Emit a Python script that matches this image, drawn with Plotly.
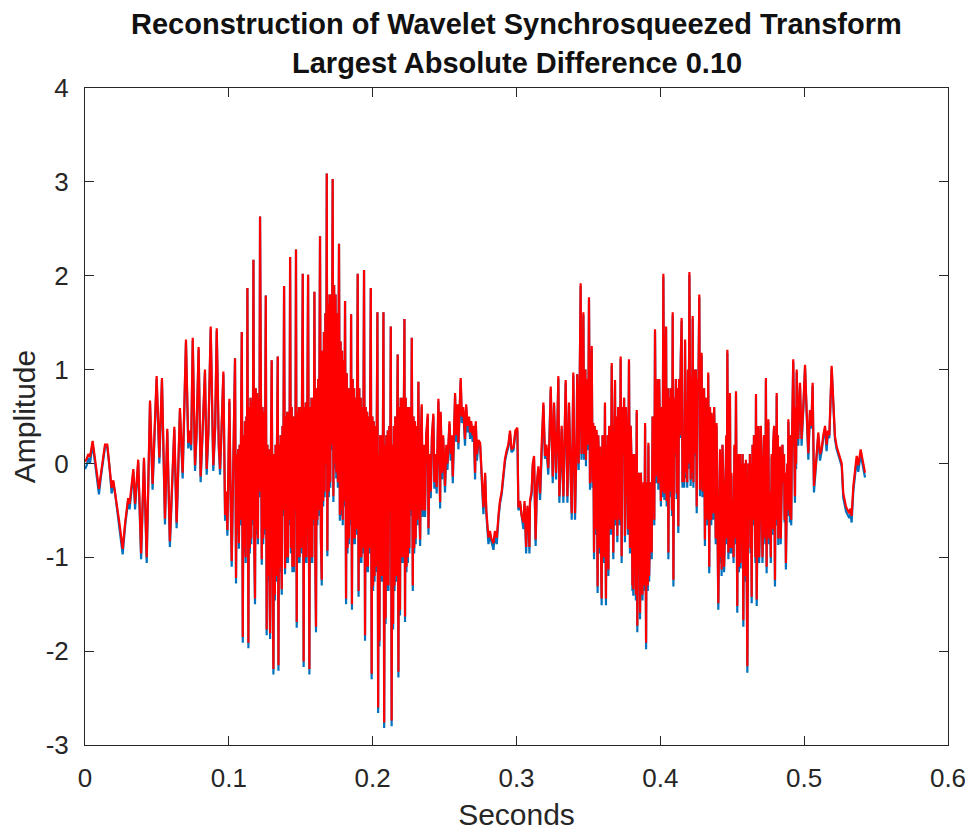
import plotly.graph_objects as go

# ---------------- data (times in milliseconds, amplitudes) ----------------
seg_a_t = [0.0, 1.2, 2.3, 3.5, 5.3, 6.5, 8.1, 9.7, 11.0, 12.5, 13.9, 15.5, 17.0, 18.5, 19.7, 21.0, 22.0, 23.8,
           25.5, 26.2, 28.0, 30.0, 31.0, 33.6, 34.8, 37.0, 39.0, 41.0, 42.9, 45.2, 47.0, 49.8, 51.7, 53.5, 55.6,
           57.2, 59.0, 62.1, 63.7, 66.0, 67.9, 70.2, 71.8, 72.8, 73.8, 74.9, 76.5, 77.5, 79.0, 80.4, 81.5, 83.4,
           84.6, 85.8, 87.4, 89.2, 90.5, 91.6, 93.0, 93.9, 95.0, 96.2, 97.4, 98.2, 99.0, 100.4, 101.2, 102.0, 103.2]
seg_a_recon = [0.02, 0.05, 0.10, 0.07, 0.24, 0.10, -0.14, -0.27, -0.12, 0.08, 0.20, 0.20, 0.00, -0.26, -0.18,
               -0.30, -0.43, -0.62, -0.87, -0.91, -0.62, -0.37, -0.43, -0.06, -0.43, 0.04, -0.96, 0.06, -1.00,
               0.67, -0.22, 0.93, 0.06, 0.91, -0.59, 0.37, -0.83, 0.39, -0.63, 0.59, -0.10, 1.32, 0.22, 0.35,
               0.20, 1.34, -0.02, 0.30, 1.24, -0.14, 0.25, 1.00, -0.06, 0.35, 1.46, -0.02, 0.40, 1.44, 0.20,
               -0.06, 0.40, 0.98, -0.55, -0.30, -0.71, 0.69, -0.30, -1.04, 0.10]
seg_a_orig = [-0.06, -0.02, 0.06, 0.00, 0.21, 0.07, -0.17, -0.33, -0.15, 0.05, 0.17, 0.17, -0.03, -0.32, -0.21,
              -0.33, -0.46, -0.65, -0.90, -0.97, -0.65, -0.40, -0.49, -0.09, -0.49, 0.01, -1.02, 0.03, -1.06,
              0.64, -0.28, 0.90, 0.00, 0.88, -0.65, 0.34, -0.89, 0.36, -0.69, 0.56, -0.16, 1.29, 0.16, 0.32,
              0.14, 1.31, -0.08, 0.27, 1.21, -0.20, 0.22, 0.97, -0.12, 0.32, 1.43, -0.08, 0.37, 1.41, 0.17,
              -0.12, 0.37, 0.95, -0.61, -0.33, -0.77, 0.66, -0.33, -1.10, 0.07]

# dense voiced part, one line per pitch period
seg_b_t = [104.3, 105.0, 105.5, 106.0, 106.5, 107.0, 107.5, 108.0, 108.5,
           109.0, 109.7, 110.2, 110.7, 111.2, 111.7, 112.2, 112.6,
           112.9, 113.6, 114.1, 114.6, 115.1, 115.6, 116.1, 116.6,
           117.1, 117.7, 118.2, 118.7, 119.2, 119.7, 120.2, 120.7, 121.2,
           121.7, 122.3, 122.9, 123.4, 123.9, 124.4, 124.9, 125.3,
           125.7, 126.3, 126.8, 127.3, 127.8, 128.3, 128.7, 129.2,
           129.8, 130.4, 131.0, 131.5, 132.0, 132.5, 133.0, 133.5,
           134.0, 134.5, 135.0, 135.5, 136.0, 136.5, 136.8, 137.3, 137.8,
           138.4, 139.1, 139.6, 140.1, 140.6, 141.1, 141.6, 142.1,
           142.6, 143.2, 143.7, 144.2, 144.7, 145.2, 145.7, 146.2,
           146.7, 147.2, 147.7, 148.2, 148.7, 149.2, 149.7, 150.2, 150.8,
           151.4, 152.0, 152.5, 153.0, 153.5, 154.0, 154.5,
           155.1, 156.0, 156.5, 157.0, 157.5, 158.0, 158.5, 159.0,
           159.5, 160.1, 160.6, 161.1, 161.6, 162.1, 162.6, 163.0,
           163.4, 164.0, 164.6, 165.1, 165.6, 166.1, 166.6, 167.1, 167.6,
           168.1, 168.5, 169.0, 169.5, 170.0, 170.5, 171.0, 171.5,
           172.2, 172.7, 173.2, 173.7, 174.2, 174.7, 175.2, 175.8,
           176.6, 177.2, 177.7, 178.2, 178.7, 179.2, 179.7, 180.2,
           180.8, 181.5, 182.0, 182.5, 183.0, 183.5, 184.0, 184.5,
           185.0, 185.6, 186.1, 186.6, 187.1, 187.6, 188.1, 188.6, 189.1,
           189.6, 190.2, 190.7, 191.2, 191.7, 192.2, 192.7, 193.2, 193.6,
           194.0, 194.7, 195.2, 195.7, 196.2, 196.7, 197.2, 197.7, 198.2,
           198.7, 199.3, 199.8, 200.3, 200.8, 201.3, 201.8, 202.3, 202.8,
           203.3, 203.8, 204.3, 204.7, 205.2, 205.7, 206.2, 206.7, 207.1,
           207.5, 208.0, 208.5, 209.0, 209.5, 210.0, 210.5, 211.0, 211.6, 212.1,
           212.6, 213.2, 213.7, 214.2, 214.7, 215.2, 215.7, 216.2, 216.8,
           217.4, 217.9, 218.4, 219.0, 219.5, 220.0, 220.5, 221.0, 221.5,
           222.1, 222.5, 223.0, 223.5, 224.0, 224.5, 225.0, 225.5, 226.0, 226.6,
           227.2, 227.9, 228.4, 228.9, 229.4, 229.9, 230.4, 231.0,
           231.8]
seg_b_recon = [1.12, -1.22, 0.10, -0.70, 0.15, -0.85, 0.20, -0.60, 0.10,
               1.40, -1.85, 0.30, -0.90, 0.45, -1.00, 0.50, -0.40,
               1.87, -1.91, 0.60, -0.90, 0.70, -0.80, 0.65, -0.60,
               2.17, -0.90, -1.44, 0.80, -0.70, 0.75, -0.80, 0.70, -0.30,
               2.63, -0.60, -1.02, 0.60, -0.80, 0.55, -0.70, 0.50,
               1.79, -1.77, 0.20, -1.20, 0.15, -1.30, -1.81, 0.00,
               1.10, -1.00, -2.19, 0.10, -1.40, 0.20, -1.20, 0.25,
               1.14, -2.15, 0.20, -1.10, 0.30, -1.00, -1.34, 0.40, -0.50,
               1.89, -1.12, 0.50, -1.00, 0.55, -1.00, 0.55, -0.60,
               2.20, -0.90, 0.60, -1.10, 0.50, -1.10, 0.50, -0.50,
               2.28, -1.69, 0.55, -1.00, 0.60, -1.00, 0.60, -0.90, 0.50,
               2.02, -2.11, 0.60, -1.00, 0.65, -1.00, 0.60,
               2.01, -2.19, 0.60, -1.00, 0.70, -1.00, 0.70, -0.60,
               1.83, -1.00, -1.74, 0.80, -0.60, 0.90, -0.50, 1.00,
               2.42, -0.80, -1.24, 1.20, -0.40, 1.40, -0.30, 1.60, 0.00,
               3.09, -0.93, 1.70, -0.30, 1.80, -0.20, 1.80, 0.20,
               3.03, -0.35, 1.90, 0.00, 1.80, -0.10, 1.60, -0.20,
               2.34, -0.55, 1.30, -0.50, 1.20, -0.60, 1.10, -0.40,
               1.73, -1.44, 0.96, -0.90, 0.80, -0.80, 0.80, -0.60,
               1.59, -1.50, 0.90, -0.80, 0.80, -0.80, 0.70, -0.70, 0.50,
               2.02, -1.36, 0.80, -1.00, 0.70, -1.00, 0.60, -0.90, 0.40,
               2.06, -1.83, 0.60, -1.10, 0.55, -1.10, 0.50, -0.90, 0.30,
               1.87, -2.24, 0.50, -1.30, 0.45, -1.20, 0.40, -1.10, 0.30,
               1.61, -2.60, 0.10, -1.89, 0.30, -1.20, 0.30, -1.20, 0.30,
               1.61, -2.76, 0.20, -1.65, 0.30, -1.30, 0.35, -1.30, 0.40, -0.50,
               1.46, -2.74, 0.20, -1.71, 0.40, -1.30, 0.50, -1.20, 0.40,
               1.16, -2.22, 0.60, -1.56, 0.70, -1.00, 0.70, -1.00, 0.70,
               1.54, -1.63, 0.70, -1.10, 0.60, -1.00, 0.60, -0.90, 0.60, -0.50,
               1.34, -1.30, 0.50, -0.90, 0.45, -0.80, 0.40, -0.60,
               0.87]
seg_b_orig = [1.12, -1.28, 0.10, -0.76, 0.15, -0.91, 0.20, -0.66, 0.10,
              1.40, -1.91, 0.30, -0.96, 0.45, -1.06, 0.50, -0.46,
              1.87, -1.97, 0.60, -0.96, 0.70, -0.86, 0.65, -0.66,
              2.17, -0.90, -1.50, 0.80, -0.76, 0.75, -0.86, 0.70, -0.36,
              2.63, -0.60, -1.08, 0.60, -0.86, 0.55, -0.76, 0.50,
              1.79, -1.83, 0.20, -1.26, 0.15, -1.30, -1.87, 0.00,
              1.10, -1.00, -2.25, 0.10, -1.46, 0.20, -1.26, 0.25,
              1.14, -2.21, 0.20, -1.16, 0.30, -1.00, -1.40, 0.40, -0.56,
              1.89, -1.18, 0.50, -1.06, 0.55, -1.06, 0.55, -0.66,
              2.20, -0.96, 0.60, -1.16, 0.50, -1.16, 0.50, -0.56,
              2.28, -1.75, 0.55, -1.06, 0.60, -1.06, 0.60, -0.96, 0.50,
              2.02, -2.17, 0.60, -1.06, 0.65, -1.06, 0.60,
              2.01, -2.25, 0.60, -1.06, 0.70, -1.06, 0.70, -0.66,
              1.83, -1.00, -1.80, 0.80, -0.66, 0.90, -0.56, 1.00,
              2.42, -0.80, -1.30, 1.20, -0.46, 1.40, -0.36, 1.60, -0.06,
              3.09, -0.99, 1.70, -0.36, 1.80, -0.26, 1.80, 0.14,
              3.03, -0.41, 1.90, -0.06, 1.80, -0.16, 1.60, -0.26,
              2.34, -0.61, 1.30, -0.56, 1.20, -0.66, 1.10, -0.46,
              1.73, -1.50, 0.96, -0.96, 0.80, -0.86, 0.80, -0.66,
              1.59, -1.56, 0.90, -0.86, 0.80, -0.86, 0.70, -0.76, 0.50,
              2.02, -1.42, 0.80, -1.06, 0.70, -1.06, 0.60, -0.96, 0.40,
              2.06, -1.89, 0.60, -1.16, 0.55, -1.16, 0.50, -0.96, 0.30,
              1.87, -2.30, 0.50, -1.36, 0.45, -1.26, 0.40, -1.16, 0.30,
              1.61, -2.66, 0.10, -1.95, 0.30, -1.26, 0.30, -1.26, 0.30,
              1.61, -2.82, 0.20, -1.71, 0.30, -1.36, 0.35, -1.36, 0.40, -0.56,
              1.46, -2.80, 0.20, -1.77, 0.40, -1.36, 0.50, -1.26, 0.40,
              1.16, -2.28, 0.60, -1.62, 0.70, -1.06, 0.70, -1.06, 0.70,
              1.54, -1.69, 0.70, -1.16, 0.60, -1.06, 0.60, -0.96, 0.60, -0.56,
              1.34, -1.36, 0.50, -0.96, 0.45, -0.86, 0.40, -0.66,
              0.87]

# decaying part and the quiet stretch around 0.28-0.34 s
seg_c_t = [232.4, 233.0, 233.6, 234.1, 234.8, 235.6, 236.4, 237.2, 238.3, 238.8, 239.6, 240.4, 241.2, 242.2,
           242.9, 243.7, 244.5, 245.7, 246.9, 247.3, 248.2, 249.0, 250.3, 251.2, 252.0, 253.4, 254.3, 255.0,
           255.7, 257.3, 258.0, 259.0, 259.6, 260.4, 261.2, 262.0, 263.0, 264.2, 265.0, 266.0, 267.0, 267.7,
           268.5, 269.5, 270.3, 271.2, 271.7, 272.5, 273.5, 274.7, 275.5, 276.2, 277.0, 278.2, 279.0, 280.5,
           281.5, 282.5, 284.0, 285.0, 286.3, 287.5, 288.5, 289.7, 290.8, 292.0, 293.2, 294.3, 295.5, 296.5,
           297.9, 299.2, 300.6, 301.3, 302.5, 303.5, 304.8, 305.6, 306.7, 307.6, 308.4, 309.0, 309.4, 310.5,
           311.3, 312.2, 313.3, 314.2, 315.2, 316.4, 317.5, 318.7, 319.8, 320.8, 322.1, 323.0, 323.8, 325.2,
           326.1, 327.5, 328.3, 329.1, 329.8, 330.6, 331.4, 332.6, 333.4, 334.2, 335.4, 336.5, 337.5, 338.4,
           339.5, 340.7]
seg_c_recon = [-0.40, -0.81, 0.30, 0.63, -0.50, 0.20, -0.50, 0.30, 0.53, -0.69, 0.10, -0.30, 0.30, 0.53,
               -0.20, 0.10, -0.25, 0.69, -0.41, 0.55, -0.10, 0.30, -0.24, 0.20, 0.00, 0.45, 0.10, 0.30,
               -0.14, 0.75, 0.30, 0.63, 0.22, 0.50, 0.91, 0.50, 0.60, 0.26, 0.63, 0.40, 0.50, 0.33,
               0.45, 0.30, 0.40, -0.10, 0.45, 0.10, 0.25, 0.22, -0.05, -0.20, -0.47, -0.10, -0.50, -0.79,
               -0.72, -0.80, -0.85, -0.72, -0.79, -0.55, -0.40, -0.30, -0.10, 0.05, 0.14, 0.20, 0.35, 0.15,
               0.17, 0.35, 0.38, -0.47, -0.40, -0.55, -0.63, -0.40, -0.89, -0.45, -0.60, -0.89, -0.39, -0.30,
               0.00, 0.08, -0.81, -0.20, -0.03, -0.32, 0.20, 0.65, 0.08, 0.20, -0.05, 0.30, 0.82, -0.14,
               0.65, -0.10, 0.30, 0.93, -0.35, 0.10, 0.40, -0.35, 0.30, 0.89, -0.35, 0.65, 0.00, -0.53,
               0.97, -0.53]
seg_c_orig = [-0.43, -0.88, 0.27, 0.60, -0.57, 0.17, -0.57, 0.27, 0.50, -0.76, 0.07, -0.37, 0.27, 0.50,
              -0.27, 0.07, -0.32, 0.66, -0.48, 0.52, -0.17, 0.27, -0.31, 0.17, -0.07, 0.42, 0.03, 0.27,
              -0.21, 0.72, 0.23, 0.60, 0.15, 0.47, 0.88, 0.43, 0.57, 0.19, 0.60, 0.33, 0.47, 0.26,
              0.42, 0.23, 0.37, -0.17, 0.42, 0.03, 0.22, 0.19, -0.08, -0.23, -0.54, -0.13, -0.53, -0.86,
              -0.75, -0.83, -0.92, -0.75, -0.86, -0.58, -0.43, -0.33, -0.13, 0.02, 0.11, 0.17, 0.32, 0.12,
              0.14, 0.32, 0.35, -0.50, -0.43, -0.58, -0.70, -0.43, -0.96, -0.48, -0.63, -0.96, -0.42, -0.33,
              -0.03, 0.05, -0.88, -0.23, -0.06, -0.39, 0.17, 0.62, 0.05, 0.17, -0.12, 0.27, 0.79, -0.21,
              0.62, -0.17, 0.27, 0.90, -0.42, 0.07, 0.37, -0.42, 0.27, 0.86, -0.42, 0.62, -0.03, -0.60,
              0.94, -0.60]

# second voiced part
seg_d_t = [341.8, 342.2, 342.6, 343.2, 343.9, 344.6, 345.2, 345.8, 346.5, 347.0,
           347.4, 347.9, 348.3, 348.8, 349.3, 349.8, 350.4, 351.1, 351.7, 352.3,
           352.9, 353.4, 353.9, 354.4, 354.7, 355.0, 355.7, 356.4, 356.8, 357.2,
           357.6, 358.1, 358.6, 359.2, 359.8, 360.3, 360.9, 361.5, 362.2, 362.6,
           363.0, 363.4, 363.9, 364.4, 365.0, 365.6, 366.2, 367.3, 367.9, 368.5,
           368.9, 369.3, 369.7, 370.1, 370.7, 371.3, 371.8, 372.4, 373.1, 373.6,
           374.2, 374.8, 375.4, 376.1, 376.8, 377.5, 378.2, 378.9, 379.4, 380.0,
           380.6, 380.9, 381.2, 381.8, 382.4, 383.0, 383.6, 384.0, 384.5, 385.0,
           385.5, 385.9, 386.5, 387.0, 387.6, 388.2, 388.8, 389.4, 390.1, 390.5,
           390.9, 391.3, 391.7, 392.2, 392.8, 393.4, 394.0, 394.6, 395.2, 395.8,
           396.3, 397.0, 397.4, 397.8, 398.2, 398.6, 399.2, 399.8, 400.4, 401.0,
           401.6, 402.1, 402.8, 403.4, 404.0, 404.4, 404.8, 405.2, 405.6, 406.1,
           406.6, 407.1, 407.6, 408.1, 408.6, 409.1, 409.6, 410.2, 410.8, 411.4,
           411.9, 412.5, 413.0, 413.6, 414.2, 414.8, 415.4, 416.0, 416.6, 417.2,
           417.7, 418.3, 418.7, 419.2, 419.7, 420.2, 421.1, 421.5, 422.0, 422.5,
           423.0, 423.5, 424.1, 424.7, 425.3, 425.8, 426.4, 427.1, 427.6, 428.1,
           428.7, 429.3, 429.9, 430.4, 431.0, 431.6, 432.2, 432.7, 433.3, 434.0,
           434.5, 435.0, 435.4, 435.7, 436.8, 437.4, 438.0, 438.5, 439.1, 440.3,
           441.5, 442.0, 442.3, 442.6, 443.2, 443.8, 444.3, 444.9, 445.8, 446.2,
           446.6, 447.3, 447.8, 448.4, 448.9, 449.4, 449.9, 450.3, 450.9, 451.5,
           452.0, 452.6, 453.5, 453.9, 454.2, 454.6, 454.9, 455.4, 455.8, 456.3,
           456.8, 457.2, 457.7, 458.2, 458.6, 459.1, 459.5, 460.5, 461.2, 461.9,
           462.3, 462.7, 463.1, 463.5, 464.1, 464.6, 465.1, 465.6, 466.1, 466.5,
           467.0, 468.1, 468.7, 469.3, 469.8, 470.4, 471.0, 471.6, 472.1, 472.6,
           473.0, 473.4, 473.9, 474.3, 474.7, 475.1, 475.6, 476.2, 476.8, 477.4,
           477.9, 478.5, 479.1, 479.7, 480.2, 480.5, 480.9, 481.4, 481.7, 482.0,
           482.5, 482.8, 483.2, 483.7, 484.3, 484.9, 485.5, 486.0, 486.4, 486.9,
           487.3, 488.2, 488.6, 489.0, 490.1, 490.7, 491.0, 491.3, 492.4, 493.6,
           494.0, 494.4, 494.8, 495.9, 497.1, 498.2, 499.4]
seg_d_recon = [0.26, 0.95, 0.60, 0.00, 0.80, 1.92, 0.10, 0.33, 1.61, 0.10,
               0.40, 1.00, 0.04, 0.90, 0.80, 0.20, 1.77, -0.21, 0.90, 1.25,
               -0.20, 0.43, -0.95, 0.40, -0.70, 0.20, 0.36, -1.31, 0.30, 0.10,
               -0.90, 0.18, -0.80, -1.44, 0.30, -0.20, -1.00, 0.65, -1.44, 0.20,
               -0.50, 0.30, -1.13, 0.40, 0.20, -0.70, 1.07, -0.95, 0.50, 0.89,
               -0.60, -0.30, 0.50, -0.77, 0.60, 0.40, -0.60, 1.14, -0.99, 0.60,
               0.10, 0.70, -0.77, 0.60, 0.20, -0.70, 1.11, -0.90, 0.40, 0.00,
               -1.30, 0.10, -1.34, 0.10, -0.20, -1.40, 0.57, -1.73, -0.10, -0.60,
               -0.10, -1.59, -0.10, -0.80, -1.40, -0.20, -1.30, 0.43, -1.91, -0.20,
               -0.30, -1.30, 0.22, -1.20, -0.84, -0.20, -0.95, 0.50, 0.20, -0.60,
               1.43, -0.14, 0.80, 0.30, 0.90, -0.21, 0.90, 0.40, -0.40, 0.60,
               -0.30, 2.02, -0.32, 0.90, 1.46, -0.40, 0.00, 0.80, -0.95, 0.70,
               -0.30, 0.80, 0.40, -0.50, 1.61, -1.24, 0.70, 0.10, 0.90, -0.32,
               0.80, -0.67, 0.90, 0.30, 1.10, 1.55, -0.20, 0.18, -0.20, 1.32,
               -0.10, 0.65, -0.20, 1.00, 0.00, 2.04, -0.17, 0.90, -0.10, 1.57,
               -0.20, 1.00, 0.11, 1.00, -0.46, 0.90, 0.75, 1.80, -0.28, 0.90,
               1.18, -0.30, 0.08, 0.80, -0.81, 0.70, 0.30, -0.60, 0.97, -1.10,
               0.60, 0.20, -0.60, 0.54, -0.53, 0.60, 0.10, -0.80, 0.43, -1.49,
               0.15, -1.00, 0.10, -1.13, 0.20, -0.20, -1.10, -0.71, 0.30, -0.80,
               1.21, -0.95, 0.30, 0.75, -0.90, -0.10, -0.90, -0.39, -1.00, 0.20,
               -0.80, 0.77, -1.52, 0.10, -0.30, -1.10, -0.39, 0.10, -1.06, 0.00,
               -0.50, 0.10, -1.67, 0.00, -0.80, -1.20, 0.04, -2.16, 0.00, -0.56,
               0.10, -0.90, 0.00, -1.42, 0.20, -0.60, 0.30, -0.20, -1.00, 0.74,
               -1.45, 0.40, -1.00, -0.50, 0.40, 0.08, -1.00, -0.60, 0.30, 0.10,
               -0.80, 0.91, -1.10, 0.40, -0.60, 0.47, -0.80, -0.30, -1.00, 0.10,
               -0.70, 0.22, 0.40, -1.24, 0.30, -0.60, 0.75, -0.60, 0.30, -0.80,
               0.10, -0.70, 0.18, -0.80, -0.40, 0.20, -0.20, 0.10, -0.60, -0.10,
               -1.06, 0.00, -0.50, 0.47, -0.56, 0.30, -0.60, 0.00, 1.11, -0.35,
               0.60, 0.00, 1.00, 0.26, 0.86, 0.26, 0.60]
seg_d_orig = [0.23, 0.95, 0.57, -0.07, 0.80, 1.89, 0.04, 0.30, 1.58, 0.04,
              0.37, 1.00, -0.03, 0.90, 0.77, 0.14, 1.74, -0.28, 0.90, 1.22,
              -0.26, 0.40, -1.02, 0.40, -0.76, 0.17, 0.33, -1.38, 0.30, 0.07,
              -0.96, 0.15, -0.80, -1.51, 0.30, -0.23, -1.06, 0.62, -1.51, 0.20,
              -0.56, 0.30, -1.20, 0.40, 0.17, -0.76, 1.04, -1.02, 0.50, 0.86,
              -0.66, -0.33, 0.50, -0.84, 0.60, 0.37, -0.66, 1.11, -1.06, 0.60,
              0.07, 0.70, -0.84, 0.60, 0.17, -0.76, 1.08, -0.96, 0.40, -0.03,
              -1.36, 0.10, -1.41, 0.10, -0.23, -1.46, 0.54, -1.80, -0.10, -0.66,
              -0.10, -1.66, -0.10, -0.83, -1.46, -0.23, -1.36, 0.40, -1.98, -0.20,
              -0.33, -1.36, 0.19, -1.26, -0.87, -0.20, -1.02, 0.50, 0.17, -0.66,
              1.40, -0.21, 0.80, 0.27, 0.90, -0.28, 0.90, 0.37, -0.46, 0.57,
              -0.36, 1.99, -0.39, 0.90, 1.43, -0.46, -0.03, 0.80, -1.02, 0.70,
              -0.36, 0.80, 0.37, -0.56, 1.58, -1.31, 0.70, 0.07, 0.90, -0.38,
              0.80, -0.74, 0.90, 0.27, 1.10, 1.52, -0.26, 0.15, -0.26, 1.29,
              -0.16, 0.62, -0.26, 0.97, -0.06, 2.01, -0.24, 0.90, -0.16, 1.54,
              -0.26, 1.00, 0.08, 1.00, -0.53, 0.90, 0.72, 1.77, -0.35, 0.90,
              1.15, -0.36, 0.05, 0.80, -0.88, 0.70, 0.27, -0.66, 0.94, -1.17,
              0.60, 0.17, -0.66, 0.51, -0.60, 0.60, 0.07, -0.86, 0.40, -1.56,
              0.12, -1.06, 0.10, -1.20, 0.20, -0.23, -1.16, -0.78, 0.27, -0.86,
              1.18, -1.02, 0.27, 0.72, -0.96, -0.13, -0.96, -0.46, -1.06, 0.17,
              -0.86, 0.74, -1.59, 0.10, -0.33, -1.16, -0.42, 0.10, -1.12, 0.00,
              -0.56, 0.10, -1.74, 0.00, -0.83, -1.26, 0.01, -2.23, 0.00, -0.62,
              0.10, -0.96, 0.00, -1.49, 0.20, -0.66, 0.30, -0.23, -1.06, 0.71,
              -1.52, 0.37, -1.06, -0.56, 0.40, 0.05, -1.06, -0.66, 0.30, 0.07,
              -0.86, 0.88, -1.17, 0.40, -0.66, 0.44, -0.86, -0.33, -1.06, 0.07,
              -0.76, 0.19, 0.40, -1.31, 0.30, -0.66, 0.72, -0.66, 0.30, -0.87,
              0.10, -0.76, 0.15, -0.86, -0.43, 0.20, -0.23, 0.10, -0.63, -0.10,
              -1.13, -0.03, -0.56, 0.44, -0.63, 0.30, -0.66, -0.03, 1.08, -0.42,
              0.60, -0.06, 0.97, 0.19, 0.83, 0.19, 0.57]

# tail
seg_e_t = [500.6, 501.7, 502.9, 504.0, 505.0, 505.9, 506.8, 508.2, 509.0, 509.8, 511.0, 512.1, 513.3,
           514.5, 515.6, 516.5, 517.5, 518.4, 519.1, 520.3, 521.4, 522.6, 524.4, 526.1, 527.2, 528.0,
           529.1, 530.3, 531.4, 532.2, 533.0, 534.2, 535.3, 536.5, 537.6, 539.3, 540.6, 542.3]
seg_e_recon = [1.05, 0.57, 0.11, 0.57, 0.40, 0.86, -0.24, 0.00, 0.20, 0.33, 0.10, 0.15, 0.30,
               0.40, 0.20, 0.35, 0.30, 0.70, 1.04, 0.65, 0.29, 0.18, 0.08, 0.00, -0.32, -0.40,
               -0.46, -0.50, -0.53, -0.48, -0.56, -0.24, -0.10, 0.08, -0.02, 0.15, 0.04, -0.10]
seg_e_orig = [1.02, 0.54, 0.04, 0.54, 0.37, 0.83, -0.31, -0.03, 0.17, 0.30, 0.03, 0.12, 0.27,
              0.37, 0.13, 0.32, 0.27, 0.67, 1.01, 0.62, 0.26, 0.15, 0.05, -0.03, -0.37, -0.45,
              -0.51, -0.55, -0.58, -0.53, -0.63, -0.29, -0.15, 0.03, -0.09, 0.10, -0.01, -0.15]

x_tick_vals = [0, 0.1, 0.2, 0.3, 0.4, 0.5, 0.6]
x_tick_text = ["0", "0.1", "0.2", "0.3", "0.4", "0.5", "0.6"]
y_tick_vals = [-3, -2, -1, 0, 1, 2, 3, 4]
y_tick_text = ["-3", "-2", "-1", "0", "1", "2", "3", "4"]

title_line1 = "Reconstruction of Wavelet Synchrosqueezed Transform"
title_line2 = "Largest Absolute Difference 0.10"


def join(segs):
    out_t, out_r, out_o = [], [], []
    for t, r, o in segs:
        n = min(len(t), len(r), len(o))
        out_t += [v / 1000.0 for v in t[:n]]
        out_r += r[:n]
        out_o += o[:n]
    return out_t, out_r, out_o


t_s, recon, orig = join([(seg_a_t, seg_a_recon, seg_a_orig),
                         (seg_b_t, seg_b_recon, seg_b_orig),
                         (seg_c_t, seg_c_recon, seg_c_orig),
                         (seg_d_t, seg_d_recon, seg_d_orig),
                         (seg_e_t, seg_e_recon, seg_e_orig)])

FONT = "Liberation Sans, Arial, Helvetica, sans-serif"
AX = "#262626"

fig = go.Figure()
fig.add_trace(go.Scatter(x=t_s, y=orig, mode="lines",
                         line=dict(color="#0072BD", width=2.2), hoverinfo="skip", showlegend=False))
fig.add_trace(go.Scatter(x=t_s, y=recon, mode="lines",
                         line=dict(color="#FF0000", width=2.2), hoverinfo="skip", showlegend=False))

axis_common = dict(showgrid=False, zeroline=False, showline=True, linecolor=AX, linewidth=1,
                   mirror="ticks", ticks="inside", ticklen=9, tickcolor=AX, tickwidth=1,
                   tickfont=dict(family=FONT, size=26, color=AX))

# the page body has an 8 px default margin, so the figure is sized to fill the window from there
fig.update_layout(
    width=965, height=823,
    paper_bgcolor="white", plot_bgcolor="white",
    margin=dict(l=77, r=25, t=80, b=86, autoexpand=False),
    font=dict(family=FONT, color=AX),
    xaxis=dict(range=[0, 0.6], tickvals=x_tick_vals, ticktext=x_tick_text,
               title=dict(text="Seconds", font=dict(family=FONT, size=30, color=AX), standoff=16),
               ticklabelstandoff=10, **axis_common),
    yaxis=dict(range=[-3, 4], tickvals=y_tick_vals, ticktext=y_tick_text,
               title=dict(text="Amplitude", font=dict(family=FONT, size=30, color=AX), standoff=10),
               ticklabelstandoff=10, **axis_common),
    annotations=[
        dict(text="<b>" + title_line1 + "</b>", xref="paper", yref="paper", x=0.5, y=1,
             xanchor="center", yanchor="middle", yshift=64, showarrow=False,
             font=dict(family=FONT, size=29, color="#111111")),
        dict(text="<b>" + title_line2 + "</b>", xref="paper", yref="paper", x=0.5, y=1,
             xanchor="center", yanchor="middle", yshift=25, showarrow=False,
             font=dict(family=FONT, size=29, color="#111111")),
    ],
)

fig.write_html("out.html")
